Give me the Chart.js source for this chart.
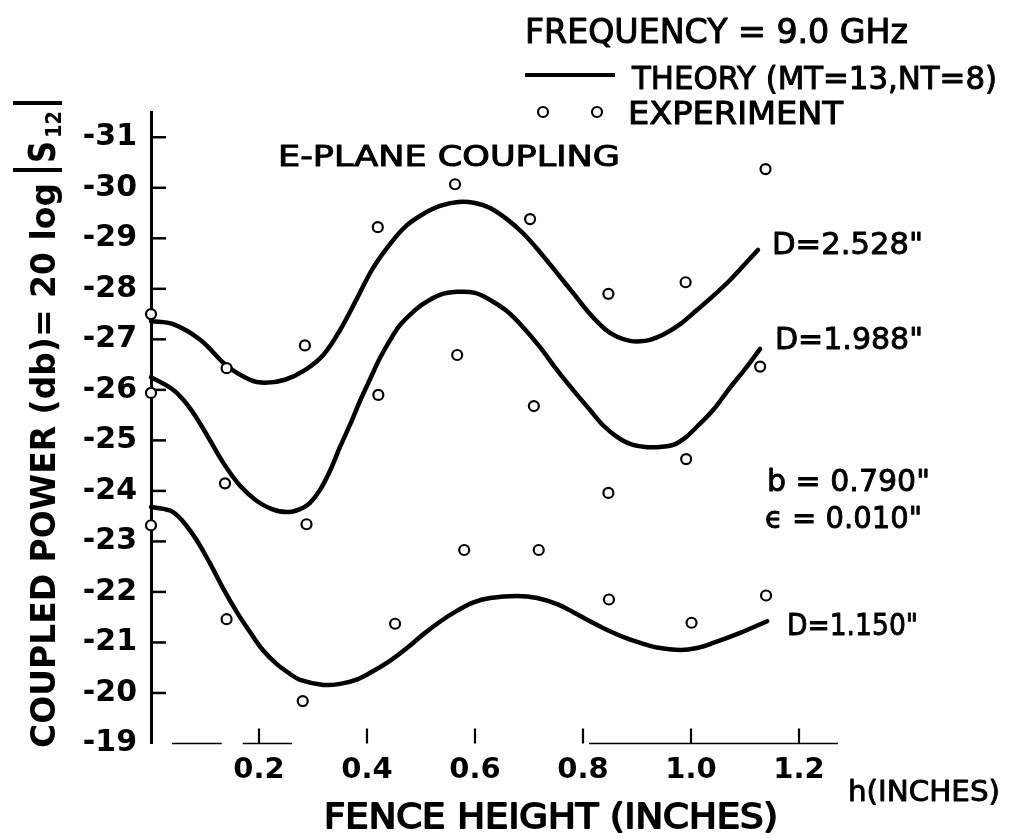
<!DOCTYPE html>
<html>
<head>
<meta charset="utf-8">
<script src="https://cdn.jsdelivr.net/npm/chart.js@4.4.1/dist/chart.umd.min.js"></script>
<style>
  html, body { margin: 0; padding: 0; background: #fff; }
  #wrap { width: 1022px; height: 838px; position: relative; }
</style>
</head>
<body>
<div id="wrap"><canvas id="c"></canvas></div>
<script>
// Fence height h (inches) against coupled power 20 log |S12| (dB), f = 9.0 GHz

// Theory curves (MT=13, NT=8)
const theoryH_2528  = [0, 0.041, 0.091, 0.141, 0.183, 0.211, 0.248, 0.285, 0.319, 0.350, 0.382, 0.411, 0.443, 0.472, 0.504, 0.535, 0.569, 0.600, 0.628, 0.659, 0.689, 0.720, 0.752, 0.783, 0.813, 0.841, 0.863, 0.887, 0.906, 0.924, 0.948, 0.980, 1.011, 1.041, 1.072, 1.100, 1.124];
const theoryDb_2528 = [-27.36, -27.30, -26.99, -26.47, -26.20, -26.14, -26.20, -26.39, -26.69, -27.18, -27.82, -28.41, -28.89, -29.24, -29.48, -29.64, -29.72, -29.70, -29.60, -29.38, -29.10, -28.73, -28.31, -27.90, -27.50, -27.20, -27.05, -26.97, -26.96, -26.99, -27.09, -27.30, -27.58, -27.86, -28.17, -28.49, -28.77];

const theoryH_1988  = [0, 0.041, 0.072, 0.100, 0.133, 0.165, 0.196, 0.224, 0.252, 0.276, 0.294, 0.313, 0.332, 0.350, 0.369, 0.387, 0.406, 0.424, 0.443, 0.461, 0.483, 0.504, 0.535, 0.567, 0.600, 0.628, 0.659, 0.689, 0.720, 0.752, 0.783, 0.813, 0.837, 0.863, 0.887, 0.915, 0.943, 0.967, 0.989, 1.011, 1.041, 1.072, 1.100, 1.128];
const theoryDb_1988 = [-26.25, -26.00, -25.64, -25.17, -24.57, -24.10, -23.80, -23.64, -23.58, -23.64, -23.76, -24.02, -24.41, -24.87, -25.32, -25.78, -26.22, -26.63, -26.99, -27.28, -27.52, -27.70, -27.88, -27.94, -27.92, -27.78, -27.56, -27.24, -26.85, -26.39, -25.98, -25.60, -25.30, -25.07, -24.93, -24.87, -24.87, -24.91, -25.05, -25.27, -25.60, -26.04, -26.41, -26.81];

const theoryH_1150  = [0, 0.041, 0.078, 0.109, 0.133, 0.159, 0.183, 0.207, 0.233, 0.257, 0.276, 0.319, 0.350, 0.382, 0.411, 0.443, 0.474, 0.504, 0.535, 0.567, 0.596, 0.628, 0.678, 0.715, 0.752, 0.782, 0.813, 0.844, 0.874, 0.906, 0.937, 0.980, 1.011, 1.041, 1.091, 1.141];
const theoryDb_1150 = [-23.68, -23.58, -23.13, -22.57, -22.08, -21.60, -21.21, -20.85, -20.57, -20.38, -20.26, -20.16, -20.18, -20.27, -20.43, -20.64, -20.89, -21.16, -21.41, -21.63, -21.79, -21.88, -21.92, -21.88, -21.76, -21.60, -21.42, -21.25, -21.11, -20.99, -20.90, -20.85, -20.89, -20.99, -21.19, -21.42];

// Measured points
const expH_2528  = [0, 0.140, 0.285, 0.420, 0.563, 0.702, 0.847, 0.990, 1.138];
const expDb_2528 = [-27.50, -26.43, -26.88, -29.22, -30.07, -29.38, -27.90, -28.13, -30.37];

const expH_1988  = [0, 0.137, 0.288, 0.421, 0.567, 0.709, 0.847, 0.991, 1.128];
const expDb_1988 = [-25.94, -24.15, -23.34, -25.90, -26.69, -25.68, -23.96, -24.63, -26.46];

const expH_1150  = [0, 0.140, 0.281, 0.452, 0.580, 0.718, 0.848, 1.001, 1.139];
const expDb_1150 = [-23.32, -21.46, -19.84, -21.37, -22.83, -22.83, -21.85, -21.39, -21.93];

// Axis ticks
const yTickValues = [-31, -30, -29, -28, -27, -26, -25, -24, -23, -22, -21, -20, -19];
const xTickValues = [0.2, 0.4, 0.6, 0.8, 1.0, 1.2];
const xTickLabels = ['0.2', '0.4', '0.6', '0.8', '1.0', '1.2'];

const FONT = '"DejaVu Sans", "Liberation Sans", sans-serif';
const INK = '#000';

function pairs(xs, ys) { return xs.map((x, i) => ({ x: x, y: ys[i] })); }

function theorySet(xs, ys) {
  return {
    type: 'line', data: pairs(xs, ys), borderColor: INK, borderWidth: 4.5,
    pointRadius: 0, tension: 0.35, fill: false,
    borderCapStyle: 'round', borderJoinStyle: 'round', clip: false, order: 2
  };
}
function experimentSet(xs, ys) {
  return {
    type: 'scatter', data: pairs(xs, ys), showLine: false, pointStyle: 'circle',
    pointRadius: 5, borderWidth: 2.2, borderColor: INK, backgroundColor: '#fff',
    clip: false, order: 1
  };
}

// Text helper: caps centred on cy, spread across x0..x1
function fitText(ctx, text, x0, x1, cy, capH, weight, thicken) {
  const size = capH / 0.73;
  ctx.font = weight + ' ' + size + 'px ' + FONT;
  const w = ctx.measureText(text).width;
  ctx.save();
  ctx.translate(x0, cy + capH / 2);
  ctx.scale((x1 - x0) / w, 1);
  ctx.textAlign = 'left';
  ctx.textBaseline = 'alphabetic';
  ctx.fillStyle = INK;
  ctx.fillText(text, 0, 0);
  if (thicken) { ctx.strokeStyle = INK; ctx.lineWidth = thicken; ctx.lineJoin = 'round'; ctx.strokeText(text, 0, 0); }
  ctx.restore();
}
// Same, in a frame where the baseline sits on y = base
function fitBase(ctx, text, u0, u1, base, capH, weight) {
  const size = capH / 0.73;
  ctx.font = weight + ' ' + size + 'px ' + FONT;
  const w = ctx.measureText(text).width;
  ctx.save();
  ctx.translate(u0, base);
  ctx.scale((u1 - u0) / w, 1);
  ctx.textAlign = 'left';
  ctx.textBaseline = 'alphabetic';
  ctx.fillStyle = INK;
  ctx.fillText(text, 0, 0);
  ctx.restore();
}

const decor = {
  id: 'decor',
  beforeDatasetsDraw(chart) {
    const ctx = chart.ctx;
    const xs = chart.scales.x, ys = chart.scales.y;
    const left = xs.getPixelForValue(0);
    const bottom = ys.getPixelForValue(-19);
    ctx.save();
    ctx.strokeStyle = INK;
    ctx.lineCap = 'butt';
    // inward ticks on the power axis
    ctx.lineWidth = 2.5;
    yTickValues.forEach(v => {
      if (v === -19) return;
      const y = ys.getPixelForValue(v);
      ctx.beginPath(); ctx.moveTo(left, y); ctx.lineTo(left + 15, y); ctx.stroke();
    });
    // height axis baseline (broken in places) and its ticks
    ctx.lineWidth = 1.6;
    [[0.039, 0.131], [0.170, 0.261], [0.811, 1.272]].forEach(seg => {
      ctx.beginPath();
      ctx.moveTo(xs.getPixelForValue(seg[0]), bottom);
      ctx.lineTo(xs.getPixelForValue(seg[1]), bottom);
      ctx.stroke();
    });
    ctx.lineWidth = 2.2;
    xTickValues.forEach(v => {
      const x = xs.getPixelForValue(v);
      ctx.beginPath(); ctx.moveTo(x, bottom); ctx.lineTo(x, bottom - 15); ctx.stroke();
    });
    ctx.restore();
  },
  afterDraw(chart) {
    const ctx = chart.ctx;
    ctx.save();
    // header and legend
    fitText(ctx, 'FREQUENCY = 9.0 GHz', 525, 908, 31, 24, 'normal', 1);
    ctx.strokeStyle = INK; ctx.lineWidth = 4;
    ctx.beginPath(); ctx.moveTo(525, 75); ctx.lineTo(615, 75); ctx.stroke();
    fitText(ctx, 'THEORY (MT=13,NT=8)', 632, 997, 77, 23, 'normal', 1);
    ctx.lineWidth = 2.2; ctx.fillStyle = '#fff';
    [543, 597].forEach(cx => {
      ctx.beginPath(); ctx.arc(cx, 112, 5, 0, Math.PI * 2); ctx.fill(); ctx.stroke();
    });
    fitText(ctx, 'EXPERIMENT', 628, 843, 112, 23, 'normal', 1);
    fitText(ctx, 'E-PLANE COUPLING', 278, 620, 155, 21, 'normal', 1);

    // curve labels and parameters
    fitText(ctx, 'D=2.528"', 772, 923, 243, 22, 'normal', 0.9);
    fitText(ctx, 'D=1.988"', 775, 923, 338, 22, 'normal', 0.9);
    fitText(ctx, 'b = 0.790"', 767, 930, 480, 22, 'normal', 0.9);
    fitText(ctx, '\u03F5 = 0.010"', 765, 922, 517, 22, 'normal', 0.9);
    fitText(ctx, 'D=1.150"', 787, 918, 624, 22, 'normal', 0.9);

    // horizontal axis titles
    fitText(ctx, 'h(INCHES)', 848, 1000, 790, 21, 'normal', 0.9);
    fitText(ctx, 'FENCE HEIGHT (INCHES)', 324, 778, 815, 25, 'normal', 1.8);

    // vertical axis title, read bottom to top
    ctx.save();
    ctx.translate(55, 748);
    ctx.rotate(-Math.PI / 2);
    fitBase(ctx, 'COUPLED POWER (db)= 20 log', 0, 565, 0, 25, 'bold');
    ctx.strokeStyle = INK; ctx.lineWidth = 4;
    ctx.beginPath(); ctx.moveTo(578, -42); ctx.lineTo(578, 7); ctx.stroke();
    fitBase(ctx, 'S', 585, 607, 0, 27, 'bold');
    fitBase(ctx, '12', 610, 637, 6, 15, 'bold');
    ctx.beginPath(); ctx.moveTo(645, -42); ctx.lineTo(645, 7); ctx.stroke();
    ctx.restore();

    ctx.restore();
  }
};

new Chart(document.getElementById('c'), {
  data: {
    datasets: [
      theorySet(theoryH_2528, theoryDb_2528),
      theorySet(theoryH_1988, theoryDb_1988),
      theorySet(theoryH_1150, theoryDb_1150),
      experimentSet(expH_2528, expDb_2528),
      experimentSet(expH_1988, expDb_1988),
      experimentSet(expH_1150, expDb_1150)
    ]
  },
  options: {
    responsive: true,
    maintainAspectRatio: false,
    animation: false,
    devicePixelRatio: 1,
    layout: { padding: { top: 112, right: 184, left: 0, bottom: 0 } },
    plugins: { legend: { display: false }, tooltip: { enabled: false }, title: { display: false } },
    scales: {
      x: {
        type: 'linear', min: 0, max: 1.2722,
        grid: { display: false, drawTicks: false },
        border: { display: false },
        afterBuildTicks: s => { s.ticks = xTickValues.map(v => ({ value: v })); },
        afterFit: s => { s.height = 94.5; },
        ticks: {
          autoSkip: false, maxRotation: 0, padding: 10, color: INK,
          font: { family: FONT, size: 29, weight: 'bold' },
          callback: (v) => xTickLabels[xTickValues.indexOf(v)]
        }
      },
      y: {
        type: 'linear', min: -31.5, max: -19, reverse: true,
        grid: { display: false, drawTicks: false },
        border: { display: true, color: INK, width: 3 },
        afterBuildTicks: s => { s.ticks = yTickValues.map(v => ({ value: v })); },
        afterFit: s => { s.width = 151; },
        ticks: {
          autoSkip: false, padding: 14, color: INK,
          font: { family: FONT, size: 30, weight: 'bold' },
          callback: (v) => String(v)
        }
      }
    }
  },
  plugins: [decor]
});
</script>
</body>
</html>
